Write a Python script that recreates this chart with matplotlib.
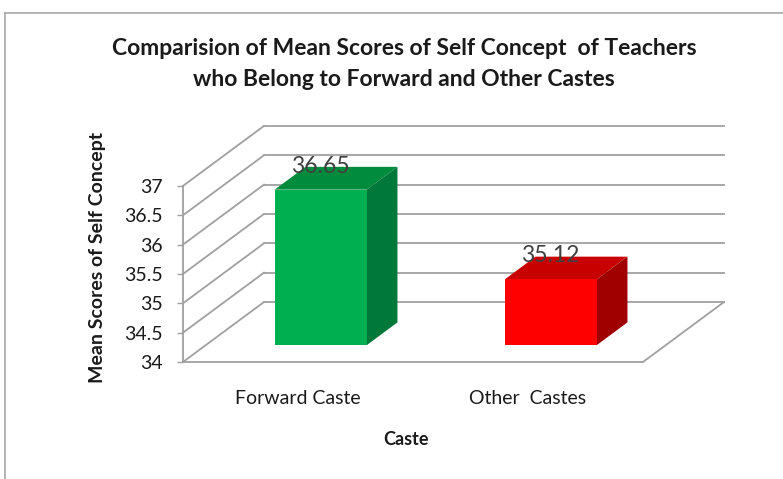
import matplotlib
matplotlib.use("Agg")
import matplotlib.pyplot as plt
from matplotlib.patches import Polygon
from matplotlib.lines import Line2D
import numpy as np

plt.rcParams['font.family'] = ['Lato', 'DejaVu Sans']

categories = ["Forward Caste", "Other  Castes"]
values = [36.65, 35.12]
value_labels = ["36.65", "35.12"]
y_ticks = [34, 34.5, 35, 35.5, 36, 36.5, 37]
y_tick_labels = ["34", "34.5", "35", "35.5", "36", "36.5", "37"]
title = "Comparision of Mean Scores of Self Concept  of Teachers\nwho Belong to Forward and Other Castes"
x_title = "Caste"
y_title = "Mean Scores of Self Concept"

front_colors = ["#00B050", "#FF0000"]
top_colors = ["#008C3C", "#C80000"]
side_colors = ["#00783A", "#A00000"]

W, H = 783, 479
fig = plt.figure(figsize=(W / 100, H / 100), dpi=100)

# outer frame
fig.add_artist(Line2D([5 / W, 5 / W], [0, 1 - 13 / H], transform=fig.transFigure, color="#a8a8a8", lw=1.2))
fig.add_artist(Line2D([5 / W, 1], [1 - 13 / H, 1 - 13 / H], transform=fig.transFigure, color="#a8a8a8", lw=1.2))

# axes placement (front plane starts at pixel x=183, value 34 at pixel y=362)
px_per_x = 230.0
px_per_y = 58.7
xmax = 2.35
ymin, ymax = 34, 38.1
ax_left, ax_bottom = 183, 362
ax = fig.add_axes([ax_left / W, (H - ax_bottom) / H, xmax * px_per_x / W, (ymax - ymin) * px_per_y / H])
ax.set_xlim(0, xmax)
ax.set_ylim(ymin, ymax)
for s in ax.spines.values():
    s.set_visible(False)

# depth vector (data units)
Dx = 81 / px_per_x
Dy = 60 / px_per_y
n = len(categories)
grid_c = "#a0a0a0"
grid_lw = 1.3

# back wall gridlines
for t in y_ticks:
    ax.plot([Dx, n + Dx], [t + Dy, t + Dy], color=grid_c, lw=grid_lw, zorder=1, clip_on=False)
    ax.plot([0, Dx], [t, t + Dy], color=grid_c, lw=grid_lw, zorder=1, clip_on=False)
# left front edge
ax.plot([0, 0], [y_ticks[0], y_ticks[-1]], color=grid_c, lw=grid_lw, zorder=1, clip_on=False)
# floor
ax.plot([0, n], [34, 34], color=grid_c, lw=grid_lw, zorder=1, clip_on=False)
ax.plot([n, n + Dx], [34, 34 + Dy], color=grid_c, lw=grid_lw, zorder=1, clip_on=False)

# bars
hw = 0.2
f0, f1 = 0.28, 0.66
for i, (v, lab) in enumerate(zip(values, value_labels)):
    c = i + 0.5
    xl, xr = c - hw, c + hw
    b0 = 34 + f0 * Dy
    top_face = [(xl + f0 * Dx, v + f0 * Dy), (xr + f0 * Dx, v + f0 * Dy),
                (xr + f1 * Dx, v + f1 * Dy), (xl + f1 * Dx, v + f1 * Dy)]
    side_face = [(xr + f0 * Dx, b0), (xr + f1 * Dx, 34 + f1 * Dy),
                 (xr + f1 * Dx, v + f1 * Dy), (xr + f0 * Dx, v + f0 * Dy)]
    front_face = [(xl + f0 * Dx, b0), (xr + f0 * Dx, b0),
                  (xr + f0 * Dx, v + f0 * Dy), (xl + f0 * Dx, v + f0 * Dy)]
    ax.add_patch(Polygon(top_face, closed=True, fc=top_colors[i], ec="none", zorder=3))
    ax.add_patch(Polygon(side_face, closed=True, fc=side_colors[i], ec="none", zorder=3))
    ax.add_patch(Polygon(front_face, closed=True, fc=front_colors[i], ec="none", zorder=3))
    ax.annotate(lab, (c + f0 * Dx, v + f0 * Dy), xytext=(0, 17), textcoords="offset points",
                ha="center", va="center", fontsize=16.5, color="#404040", zorder=5)

# axis ticks & labels
ax.set_yticks(y_ticks)
ax.set_yticklabels(y_tick_labels)
ax.tick_params(axis="y", length=4.3, width=1, color=grid_c, pad=10, labelsize=14, labelcolor="#1a1a1a")
ax.set_xticks([i + 0.5 for i in range(n)])
ax.set_xticklabels(categories)
ax.tick_params(axis="x", length=0, pad=20, labelsize=14, labelcolor="#1a1a1a")

ax.set_xlabel(x_title, fontsize=13, fontweight="bold", color="#1a1a1a")
ax.xaxis.set_label_coords((406 - ax_left) / (xmax * px_per_x), -(431 - ax_bottom) / ((ymax - ymin) * px_per_y))
ax.set_ylabel(y_title, fontsize=14, fontweight="bold", color="#1a1a1a")
ax.yaxis.set_label_coords(-(183 - 106) / (xmax * px_per_x), (ax_bottom - 257) / ((ymax - ymin) * px_per_y))

fig.text(404 / W, 1 - 64 / H, title, ha="center", va="center", fontsize=16.5, fontweight="bold",
         color="#1a1a1a", linespacing=1.55)

fig.savefig("out.png", dpi=100)
